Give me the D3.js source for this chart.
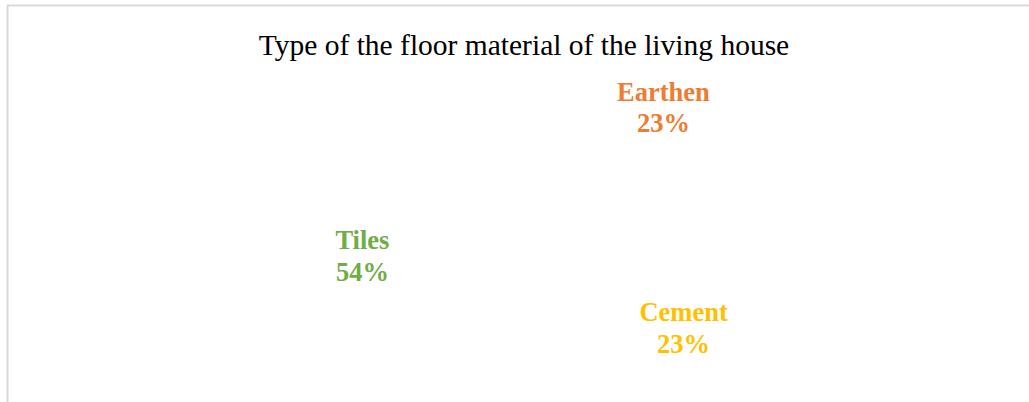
<!DOCTYPE html>
<html>
<head>
<meta charset="utf-8">
<script src="https://cdn.jsdelivr.net/npm/d3@7"></script>
<style>
  body { margin: 0; background: #fff; }
  svg { display: block; }
</style>
</head>
<body>
<svg id="viz"></svg>
<script>
var width = 1029;
var height = 402;

// chart data
var categories = ["Earthen", "Cement", "Tiles"];
var shares = [23, 23, 54];
var colors = ["#ED7D31", "#FFC000", "#70AD47"];
var title = "Type of the floor material of the living house";

var svg = d3.select("#viz").attr("width", width).attr("height", height);

// chart area border (only top and left edges fall inside the window)
svg.append("rect")
    .attr("x", 7.5).attr("y", 5.5)
    .attr("width", 1100).attr("height", 500)
    .attr("fill", "#fff")
    .attr("stroke", "#d9d9d9")
    .attr("stroke-width", 2);

svg.append("text")
    .attr("x", 524).attr("y", 55)
    .attr("text-anchor", "middle")
    .style("font-family", "'Liberation Serif', 'Times New Roman', serif")
    .style("font-size", "29.5px")
    .attr("fill", "#000")
    .text(title);

var cx = 548, cy = 234;
var data = categories.map(function(c, i) { return {name: c, value: shares[i], color: colors[i]}; });

var pie = d3.pie().sort(null).value(function(d) { return d.value; });
var arcs = pie(data);

// slices are white in the original, so they don't show
var arc = d3.arc().innerRadius(0).outerRadius(140);
var labelArc = d3.arc().innerRadius(176).outerRadius(176);

// small best-fit nudges for the labels, like the spreadsheet does
var nudge = [[-1, 2.5], [-10, -8], [-11, -3]];

var g = svg.append("g").attr("transform", "translate(" + cx + "," + cy + ")");

g.selectAll("path")
    .data(arcs)
    .enter()
    .append("path")
    .attr("d", arc)
    .attr("fill", "#fff")
    .attr("stroke", "#fff");

var labels = g.selectAll("text.lbl")
    .data(arcs)
    .enter()
    .append("text")
    .attr("class", "lbl")
    .attr("text-anchor", "middle")
    .attr("transform", function(d, i) {
        var c = labelArc.centroid(d);
        return "translate(" + (c[0] + nudge[i][0]) + "," + (c[1] + nudge[i][1]) + ")";
    })
    .style("font-family", "'Liberation Serif', 'Times New Roman', serif")
    .style("font-size", "26.5px")
    .style("font-weight", 700)
    .attr("fill", function(d) { return d.data.color; });

labels.append("tspan")
    .attr("x", 0).attr("dy", "-0.15em")
    .text(function(d) { return d.data.name; });
labels.append("tspan")
    .attr("x", 0).attr("dy", "1.2em")
    .text(function(d) { return d.data.value + "%"; });
</script>
</body>
</html>
